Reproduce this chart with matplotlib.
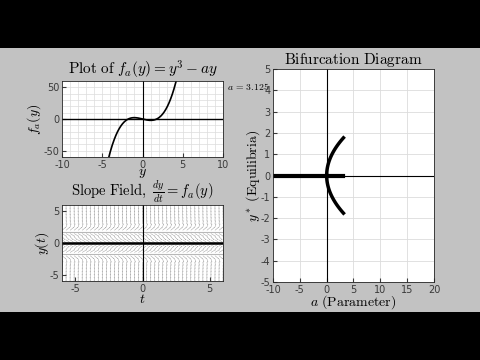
import numpy as np
import matplotlib
matplotlib.use("Agg")
import matplotlib.pyplot as plt
from matplotlib.patches import Rectangle

plt.rcParams['mathtext.fontset'] = 'cm'
plt.rcParams['font.family'] = ['DejaVu Sans']
plt.rcParams['axes.unicode_minus'] = False

# parameter value shown in the chart
a_value = 3.125
# sample points for the cubic f_a(y) = y^3 - a y
y_curve = np.linspace(-4.5, 4.5, 181)
f_curve = y_curve ** 3 - a_value * y_curve
# slope field grid
t_grid = np.arange(-6, 6.01, 0.3)
y_grid = np.arange(-6, 6.01, 0.5)
# bifurcation sweep of a
a_sweep = np.linspace(-10, a_value, 300)
a_branch = np.linspace(0, a_value, 120)

tick_color = '#3a3a3a'
grid_color = '#dcdcdc'


def style_axes(ax):
    ax.tick_params(direction='in', labelsize=7, colors=tick_color, length=3, pad=2)
    for s in ax.spines.values():
        s.set_color('#262626')
        s.set_linewidth(0.6)
    ax.set_facecolor('white')


fig = plt.figure(figsize=(4.8, 3.6), dpi=100, facecolor='black')
fig.patches.append(Rectangle((0, 48 / 360), 1, (312 - 48) / 360, transform=fig.transFigure,
                             facecolor='#c2c2c2', edgecolor='none', zorder=-10))

# top left: plot of f_a(y)
ax1 = fig.add_axes([62 / 480, 203 / 360, 161 / 480, 76 / 360])
style_axes(ax1)
ax1.set_xlim(-10, 10)
ax1.set_ylim(-60, 60)
ax1.set_xticks([-10, -5, 0, 5, 10])
ax1.set_yticks([-50, 0, 50])
ax1.set_xticks(np.arange(-10, 11, 1), minor=True)
ax1.set_yticks(np.arange(-60, 61, 10), minor=True)
ax1.tick_params(which='minor', length=0)
ax1.grid(True, which='both', color=grid_color, linewidth=0.5)
ax1.axhline(0, color='black', linewidth=1.0)
ax1.axvline(0, color='black', linewidth=0.8)
ax1.plot(y_curve, f_curve, color='black', linewidth=1.2)
ax1.set_title(r'$\mathrm{Plot\ of}\ f_a(y) = y^3 - ay$', fontsize=11, pad=3)
ax1.set_xlabel(r'$y$', fontsize=10, labelpad=-2.5)
ax1.set_ylabel(r'$f_a(y)$', fontsize=10, labelpad=0)

# bottom left: slope field
ax2 = fig.add_axes([62 / 480, 79 / 360, 161 / 480, 76 / 360])
style_axes(ax2)
ax2.set_xlim(-6, 6)
ax2.set_ylim(-6, 6)
ax2.set_xticks([-5, 0, 5])
ax2.set_yticks([-5, 0, 5])
T, Y = np.meshgrid(t_grid, y_grid)
F = Y ** 3 - a_value * Y
norm = np.sqrt(1 + F ** 2)
L = 0.6
ax2.quiver(T, Y, L / norm, L * F / norm, angles='xy', scale_units='xy', scale=1,
           color='#8c8c8c', width=0.0025, headwidth=3, headlength=3, headaxislength=2.5)
eq = np.sqrt(a_value)
for e in (eq, -eq):
    ax2.axhline(e, color='#b8b8b8', linewidth=0.8)
ax2.axhline(0, color='black', linewidth=1.8)
ax2.axvline(0, color='black', linewidth=0.8)
ax2.set_title(r'$\mathrm{Slope\ Field,}\ \frac{dy}{dt} = f_a(y)$', fontsize=10.5, pad=1)
ax2.set_xlabel(r'$t$', fontsize=10, labelpad=-1)
ax2.set_ylabel(r'$y(t)$', fontsize=10, labelpad=-1)

# parameter label (partly hidden behind the right axes)
fig.text(227 / 480, 1 - 87 / 360, r'$a\,=\,3.125$', fontsize=7, va='center', ha='left', zorder=-1)

# right: bifurcation diagram
ax3 = fig.add_axes([273 / 480, 78 / 360, 161 / 480, 213 / 360])
style_axes(ax3)
ax3.set_xlim(-10, 20)
ax3.set_ylim(-5, 5)
ax3.set_xticks(np.arange(-10, 21, 5))
ax3.set_yticks(np.arange(-5, 6, 1))
ax3.grid(True, color=grid_color, linewidth=0.6)
ax3.axhline(0, color='black', linewidth=0.8)
ax3.axvline(0, color='black', linewidth=0.8)
ax3.plot(a_sweep, np.zeros_like(a_sweep), color='black', linewidth=3)
ax3.plot(a_branch, np.sqrt(a_branch), color='black', linewidth=2.5)
ax3.plot(a_branch, -np.sqrt(a_branch), color='black', linewidth=2.5)
ax3.set_title(r'$\mathrm{Bifurcation\ Diagram}$', fontsize=11, pad=3)
ax3.set_xlabel(r'$a\ \mathrm{(Parameter)}$', fontsize=10, labelpad=-1)
ax3.set_ylabel(r'$y^*\ \mathrm{(Equilibria)}$', fontsize=10, labelpad=-1)

fig.savefig('out.png', dpi=100, facecolor=fig.get_facecolor())
